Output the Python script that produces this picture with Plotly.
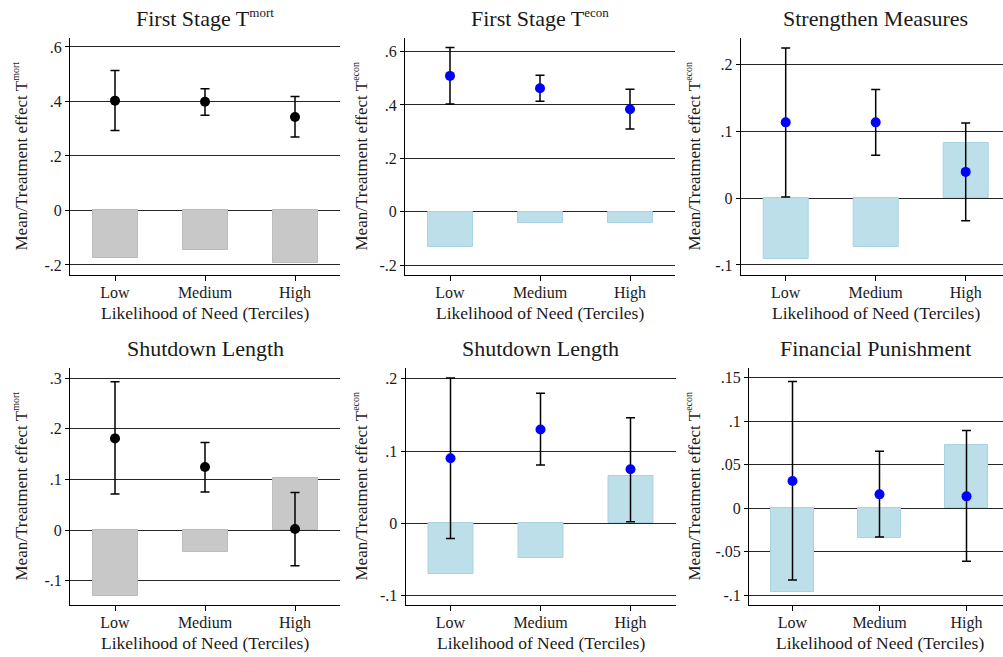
import plotly.graph_objects as go

categories = ["Low", "Medium", "High"]

# Panel 1: First Stage T^mort
p1_bars = [-0.173, -0.146, -0.192]
p1_pts = [0.403, 0.399, 0.343]
p1_lo = [0.293, 0.349, 0.270]
p1_hi = [0.514, 0.447, 0.418]

# Panel 2: First Stage T^econ
p2_bars = [-0.131, -0.044, -0.044]
p2_pts = [0.509, 0.463, 0.384]
p2_lo = [0.404, 0.414, 0.310]
p2_hi = [0.615, 0.511, 0.459]

# Panel 3: Strengthen Measures (T^econ)
p3_bars = [-0.0915, -0.0727, 0.0816]
p3_pts = [0.113, 0.113, 0.039]
p3_lo = [0.0015, 0.064, -0.034]
p3_hi = [0.224, 0.162, 0.112]

# Panel 4: Shutdown Length (T^mort)
p4_bars = [-0.130, -0.044, 0.103]
p4_pts = [0.181, 0.1245, 0.002]
p4_lo = [0.071, 0.075, -0.0705]
p4_hi = [0.293, 0.173, 0.074]

# Panel 5: Shutdown Length (T^econ)
p5_bars = [-0.0698, -0.0476, 0.0655]
p5_pts = [0.090, 0.130, 0.0748]
p5_lo = [-0.0208, 0.0808, 0.0023]
p5_hi = [0.201, 0.180, 0.146]

# Panel 6: Financial Punishment (T^econ)
p6_bars = [-0.0956, -0.0337, 0.0726]
p6_pts = [0.0313, 0.016, 0.0137]
p6_lo = [-0.0822, -0.033, -0.0608]
p6_hi = [0.1456, 0.0654, 0.0894]

SUP_T = '<sup><span style="font-size:13px">{}</span></sup>'
SUP_Y = '<sup><span style="font-size:10px">{}</span></sup>'
titles = ["First Stage T" + SUP_T.format("mort"), "First Stage T" + SUP_T.format("econ"),
          "Strengthen Measures", "Shutdown Length", "Shutdown Length", "Financial Punishment"]
ytitles = ["Mean/Treatment effect T" + SUP_Y.format("mort"),
           "Mean/Treatment effect T" + SUP_Y.format("econ"),
           "Mean/Treatment effect T" + SUP_Y.format("econ"),
           "Mean/Treatment effect T" + SUP_Y.format("mort"),
           "Mean/Treatment effect T" + SUP_Y.format("econ"),
           "Mean/Treatment effect T" + SUP_Y.format("econ")]
xtitle = "Likelihood of Need (Terciles)"

tick_vals = [
    [-0.2, 0, 0.2, 0.4, 0.6],
    [-0.2, 0, 0.2, 0.4, 0.6],
    [-0.1, 0, 0.1, 0.2],
    [-0.1, 0, 0.1, 0.2, 0.3],
    [-0.1, 0, 0.1, 0.2],
    [-0.1, -0.05, 0, 0.05, 0.1, 0.15],
]
tick_text = [
    ["-.2", "0", ".2", ".4", ".6"],
    ["-.2", "0", ".2", ".4", ".6"],
    ["-.1", "0", ".1", ".2"],
    ["-.1", "0", ".1", ".2", ".3"],
    ["-.1", "0", ".1", ".2"],
    ["-.1", "-.05", "0", ".05", ".1", ".15"],
]

panels = [
    (p1_bars, p1_pts, p1_lo, p1_hi),
    (p2_bars, p2_pts, p2_lo, p2_hi),
    (p3_bars, p3_pts, p3_lo, p3_hi),
    (p4_bars, p4_pts, p4_lo, p4_hi),
    (p5_bars, p5_pts, p5_lo, p5_hi),
    (p6_bars, p6_pts, p6_lo, p6_hi),
]

W, H = 1003, 657
# layout geometry (pixels)
x_left = [70, 405, 740.7, 70, 405.5, 749]
x_right = [340, 675, 1003, 340, 675.5, 1003]
cat_px = [90, 90, 90, 90, 90, 87]
y_top = [38, 38, 38, 368, 368, 368]
y_bot = [275, 275, 275, 605, 605, 605]
y_ranges = [[-0.237, 0.633], [-0.237, 0.651], [-0.115, 0.239],
            [-0.148, 0.320], [-0.113, 0.215], [-0.111, 0.161]]
ytitle_x = [20, 360, 693, 20, 360, 693]
title_cx = [205, 540, 875, 205, 540, 875]

mort_bar = "#c8c8c8"
mort_bar_line = "#bcbcbc"
econ_bar = "#bddfe9"
econ_bar_line = "#a8d3e0"
uses_mort = [True, False, False, True, False, False]

FONT = "Liberation Serif, Times New Roman, serif"
GRID = "#262626"

fig = go.Figure()
annotations = []
for i, (bars, pts, lo, hi) in enumerate(panels):
    k = i + 1
    xa = "x" if k == 1 else f"x{k}"
    ya = "y" if k == 1 else f"y{k}"
    mort = uses_mort[i]
    fig.add_trace(go.Bar(
        x=categories, y=bars, xaxis=xa, yaxis=ya, width=0.5,
        marker=dict(color=mort_bar if mort else econ_bar,
                    line=dict(color=mort_bar_line if mort else econ_bar_line, width=1)),
        showlegend=False, hoverinfo="skip"))
    fig.add_trace(go.Scatter(
        x=categories, y=pts, xaxis=xa, yaxis=ya, mode="markers",
        marker=dict(size=10, color="black" if mort else "#0000ff"),
        error_y=dict(type="data", symmetric=False,
                     array=[h - p for h, p in zip(hi, pts)],
                     arrayminus=[p - l for p, l in zip(pts, lo)],
                     color="black", thickness=1.5, width=4.5),
        showlegend=False))
    x0 = x_left[i] / W
    x1 = x_right[i] / W
    xr_hi = -0.5 + (x_right[i] - x_left[i]) / cat_px[i]
    y0 = 1 - y_bot[i] / H
    y1 = 1 - y_top[i] / H
    xkey = "xaxis" if k == 1 else f"xaxis{k}"
    ykey = "yaxis" if k == 1 else f"yaxis{k}"
    fig.layout[xkey] = dict(
        domain=[x0, min(x1, 1.0)], anchor=ya, type="category",
        categoryorder="array", categoryarray=categories,
        range=[-0.5, xr_hi], showline=True, linecolor="black", linewidth=1,
        ticks="outside", ticklen=5, tickcolor="black", showgrid=False,
        ticklabelstandoff=-2,
        tickfont=dict(family=FONT, size=16, color="#1a1a1a"), fixedrange=True)
    fig.layout[ykey] = dict(
        domain=[y0, y1], anchor=xa, range=y_ranges[i],
        tickvals=tick_vals[i], ticktext=tick_text[i],
        showline=True, linecolor="black", linewidth=1,
        ticks="outside", ticklen=4, tickcolor="black",
        showgrid=True, gridcolor=GRID, gridwidth=1,
        zeroline=True, zerolinecolor=GRID, zerolinewidth=1,
        tickfont=dict(family=FONT, size=16, color="#1a1a1a"), fixedrange=True)
    # panel title
    annotations.append(dict(
        text=titles[i], x=title_cx[i] / W, y=1 - (y_top[i] - 20) / H,
        xref="paper", yref="paper", xanchor="center", yanchor="middle",
        showarrow=False, font=dict(family=FONT, size=22, color="#1a1a1a")))
    # y title
    annotations.append(dict(
        text=ytitles[i], x=ytitle_x[i] / W, y=1 - ((y_top[i] + y_bot[i]) / 2) / H,
        xref="paper", yref="paper", xanchor="center", yanchor="middle",
        textangle=-90, showarrow=False, font=dict(family=FONT, size=17, color="#1a1a1a")))
    # x title
    annotations.append(dict(
        text=xtitle, x=((x_left[i] + x_left[i] + 3 * cat_px[i]) / 2) / W,
        y=1 - (y_bot[i] + 38) / H,
        xref="paper", yref="paper", xanchor="center", yanchor="middle",
        showarrow=False, font=dict(family=FONT, size=17.5, color="#1a1a1a")))

fig.update_layout(
    width=W, height=H, margin=dict(l=0, r=0, t=0, b=0),
    paper_bgcolor="white", plot_bgcolor="white",
    annotations=annotations, showlegend=False, bargap=0,
)
fig.write_html("out.html", config={"displayModeBar": False},
               post_script="document.body.style.margin='0';document.body.style.overflow='hidden';")
